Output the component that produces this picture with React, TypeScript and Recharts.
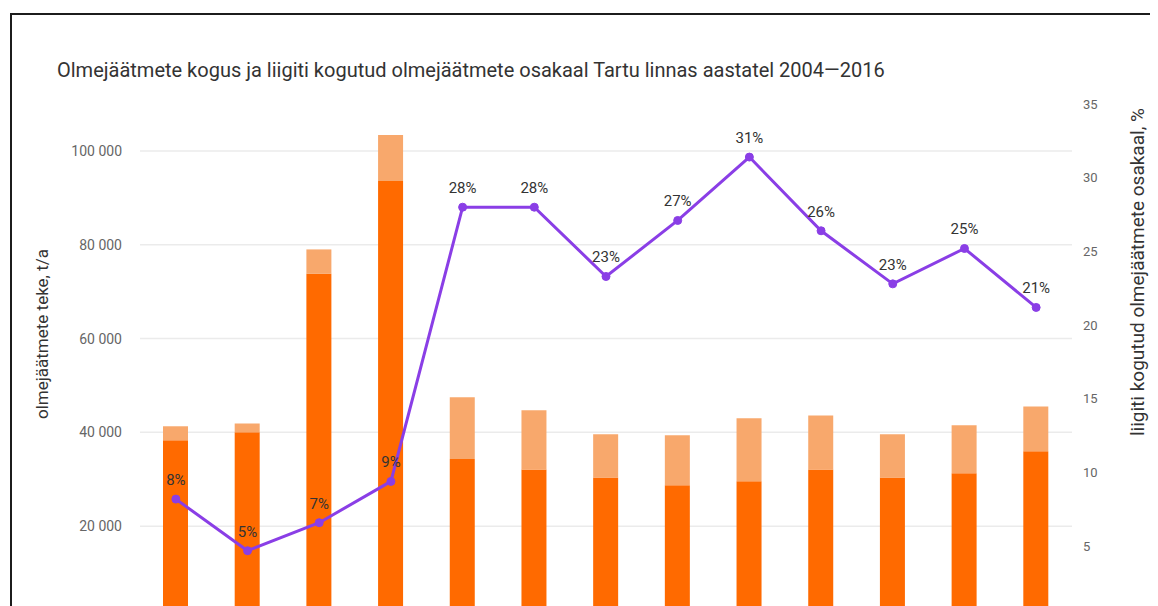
import { ComposedChart, Bar, Line, XAxis, YAxis, CartesianGrid, LabelList } from 'recharts';

const years = ['2004', '2005', '2006', '2007', '2008', '2009', '2010', '2011', '2012', '2013', '2014', '2015', '2016'];
// segamjäätmed (dark) ja liigiti kogutud (light), t/a
const segaJaatmed = [38300, 40000, 73800, 93600, 34300, 32100, 30400, 28700, 29600, 32100, 30400, 31300, 36000];
const liigitiKogutud = [3000, 1900, 5200, 9800, 13200, 12600, 9200, 10700, 13400, 11500, 9200, 10200, 9500];
// liigiti kogutud osakaal, %
const osakaal = [8.2, 4.7, 6.6, 9.4, 28.0, 28.0, 23.3, 27.1, 31.4, 26.4, 22.8, 25.2, 21.2];

// the zero line sits below the visible area, so only these ticks show
const leftTicks = [20000, 40000, 60000, 80000, 100000];
const rightTicks = [5, 10, 15, 20, 25, 30, 35];

const data = years.map((year, i) => ({
  year,
  sega: segaJaatmed[i],
  liigiti: liigitiKogutud[i],
  osakaal: osakaal[i],
}));

const FONT = 'Roboto, sans-serif';
const fmtThousands = (v: number) => String(v).replace(/\B(?=(\d{3})+(?!\d))/g, ' ');

export default function App() {
  return (
    <div style={{ position: 'relative', width: 1150, height: 598, overflow: 'hidden', fontFamily: FONT }}>
      <div
        style={{
          position: 'absolute',
          left: 2,
          top: 5,
          width: 1300,
          height: 800,
          border: '2px solid #1c1c1c',
        }}
      />
      <div
        style={{
          position: 'absolute',
          left: 49,
          top: 50,
          fontSize: 20,
          color: '#333',
          whiteSpace: 'nowrap',
        }}
      >
        Olmejäätmete kogus ja liigiti kogutud olmejäätmete osakaal Tartu linnas aastatel 2004—2016
      </div>
      <div style={{ position: 'absolute', left: -8, top: -8 }}>
        <ComposedChart
          width={1158}
          height={700}
          data={data}
          margin={{ top: 104, right: 26, bottom: 50, left: 80 }}
          barCategoryGap={0}
        >
          <CartesianGrid
            yAxisId="left"
            vertical={false}
            horizontalValues={leftTicks}
            stroke="#ebebeb"
            strokeWidth={1.5}
          />
          <XAxis dataKey="year" height={30} tickLine={false} axisLine={false} tick={false} />
          <YAxis
            yAxisId="left"
            width={60}
            domain={[0, 110000]}
            ticks={leftTicks}
            tickFormatter={fmtThousands}
            tickLine={false}
            axisLine={false}
            tickMargin={12}
            tick={{ fontSize: 14, fill: '#666', fontFamily: FONT }}
            label={{
              value: 'olmejäätmete teke, t/a',
              angle: -90,
              position: 'insideLeft',
              dx: -43,
              dy: -28,
              style: { fontSize: 17, fill: '#333', fontFamily: FONT, textAnchor: 'middle' },
            }}
          />
          <YAxis
            yAxisId="right"
            orientation="right"
            width={60}
            domain={[0, 35]}
            ticks={rightTicks}
            tickLine={false}
            axisLine={false}
            tickMargin={5}
            tick={{ fontSize: 13, fill: '#666', fontFamily: FONT }}
            label={{
              value: 'liigiti kogutud olmejäätmete osakaal, %',
              angle: -90,
              position: 'insideRight',
              dx: 10,
              dy: -90,
              style: { fontSize: 19, fill: '#333', fontFamily: FONT, textAnchor: 'middle' },
            }}
          />
          <Bar yAxisId="left" dataKey="sega" stackId="a" fill="#ff6a00" barSize={25} isAnimationActive={false} />
          <Bar yAxisId="left" dataKey="liigiti" stackId="a" fill="#f8a86c" barSize={25} isAnimationActive={false} />
          <Line
            yAxisId="right"
            dataKey="osakaal"
            stroke="#8a3ee6"
            strokeWidth={3}
            dot={{ r: 4, fill: '#8a3ee6', stroke: '#8a3ee6', strokeWidth: 1 }}
            isAnimationActive={false}
          >
            <LabelList
              dataKey="osakaal"
              position="top"
              offset={14}
              formatter={(v: number) => `${Math.round(v)}%`}
              style={{ fontSize: 15, fill: '#333', fontFamily: FONT }}
            />
          </Line>
        </ComposedChart>
      </div>
    </div>
  );
}
